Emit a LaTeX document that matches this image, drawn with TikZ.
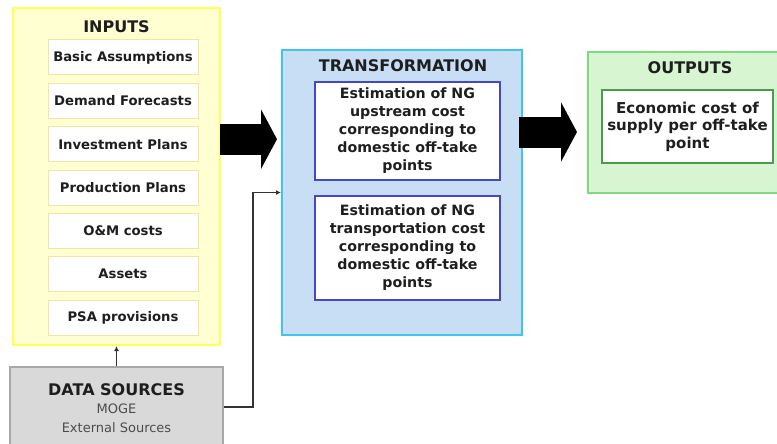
\documentclass[tikz,border=0pt]{standalone}
\usepackage{fontspec}
\setmainfont{DejaVu Sans}
\usepackage{xcolor}
\usetikzlibrary{arrows.meta, positioning}
\definecolor{InFill}{HTML}{FFFFD2}
\definecolor{InEdge}{HTML}{FFFF55}
\definecolor{ItemEdge}{HTML}{F2E6A6}
\definecolor{TrFill}{HTML}{C8DEF5}
\definecolor{TrEdge}{HTML}{3CC6F0}
\definecolor{TrItem}{HTML}{4646C8}
\definecolor{OutFill}{HTML}{D6F5D0}
\definecolor{OutEdge}{HTML}{80D880}
\definecolor{OutItem}{HTML}{4C9A4C}
\definecolor{DsFill}{HTML}{D9D9D9}
\definecolor{DsEdge}{HTML}{A8A8A8}
\definecolor{TextDark}{HTML}{1E1E1E}

\begin{document}
\begin{tikzpicture}[x=1pt, y=-1pt,
    group/.style={draw, line width=2pt, inner sep=0pt},
    title/.style={font=\bfseries\fontsize{16}{19}\selectfont, text=TextDark},
    item/.style={draw=ItemEdge, fill=white, line width=1pt, minimum width=150pt, minimum height=35pt, inner sep=0pt, font=\bfseries\fontsize{13.2}{15}\selectfont, text=TextDark},
    task/.style={draw=TrItem, fill=white, line width=1.4pt, minimum width=185pt, inner sep=0pt, align=center, font=\bfseries\fontsize{14.2}{18}\selectfont, text=TextDark},
    bigarrow/.style={line width=31pt, -{Triangle[length=16pt, width=59pt]}},
    link/.style={draw=black!80, line width=1.5pt, -{Latex[length=5pt, width=5pt]}}]
    \useasboundingbox (0,0) rectangle (777,444);
    % Inputs
    \node[group, draw=InEdge, fill=InFill, minimum width=207pt, minimum height=337pt] (inputs) at (116.5,176.5) {};
    \node[title] (inputsT) at (116.5,27) {INPUTS};
    \node[item] (basic) at (123,57.5) {Basic Assumptions};
    \node[item] (demand) at (123,100.8) {Demand Forecasts};
    \node[item] (invest) at (123,144.2) {Investment Plans};
    \node[item] (prod) at (123,187.5) {Production Plans};
    \node[item] (om) at (123,230.8) {O\&M costs};
    \node[item] (assets) at (123,274.2) {Assets};
    \node[item] (psa) at (123,317.5) {PSA provisions};
    % Data sources
    \node[group, draw=DsEdge, fill=DsFill, line width=1.5pt, minimum width=213pt, minimum height=80pt] (ds) at (116.5,407) {};
    \node[font=\bfseries\fontsize{16}{19}\selectfont, text=TextDark] (dsT) at (116.5,390) {DATA SOURCES};
    \node[font=\fontsize{13}{16}\selectfont, text=black!70, align=center] (dsL) at (116.5,418) {MOGE\\[3pt]External Sources};
    % Transformation
    \node[group, draw=TrEdge, fill=TrFill, minimum width=240pt, minimum height=285pt] (trans) at (402,192.5) {};
    \node[title] (transT) at (403,66) {TRANSFORMATION};
    \node[task, minimum height=98pt] (upstream) at (407.5,131) {Estimation of NG\\upstream cost\\corresponding to\\domestic off-take\\points};
    \node[task, minimum height=104pt] (transport) at (407.5,248) {Estimation of NG\\transportation cost\\corresponding to\\domestic off-take\\points};
    % Outputs
    \node[group, draw=OutEdge, fill=OutFill, minimum width=190pt, minimum height=141pt] (outputs) at (683,122.5) {};
    \node[title] (outputsT) at (690,68) {OUTPUTS};
    \node[task, draw=OutItem, minimum width=171pt, minimum height=73pt, font=\bfseries\fontsize{15}{17.5}\selectfont] (cost) at (687.5,126.5) {Economic cost of\\supply per off-take\\point};
    % Flows
    \draw[bigarrow, shorten <=-1pt, shorten >=4pt] ([yshift=5pt]inputs.east |- invest.east) -- ([yshift=5pt]trans.west |- invest.east);
    \draw[bigarrow, shorten <=-4pt, shorten >=10pt] ([yshift=-1pt]trans.east |- upstream.east) -- ([yshift=-1pt]outputs.west |- upstream.east);
    \draw[link] (ds.north) -- (inputs.south);
    \draw[link] (ds.east) -- ++(29,0) |- (trans.west);
\end{tikzpicture}
\end{document}
